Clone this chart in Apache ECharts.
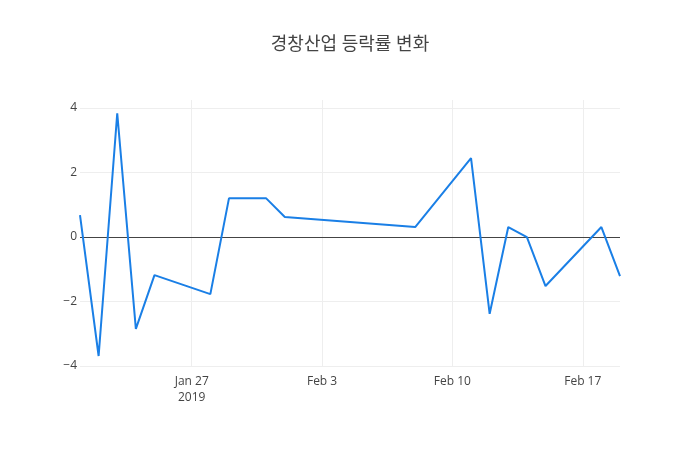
<!DOCTYPE html>
<html><head><meta charset="utf-8">
<script src="https://cdn.jsdelivr.net/npm/echarts@6/dist/echarts.min.js"></script>
<style>html,body{margin:0;padding:0;background:#fff}#c{width:700px;height:450px}</style>
</head><body><div id="c"></div>
<script>
const titleText = '경창산업 등락률 변화';
const dates = ['2019-01-21','2019-01-22','2019-01-23','2019-01-24','2019-01-25','2019-01-28','2019-01-29','2019-01-31','2019-02-01','2019-02-08','2019-02-11','2019-02-12','2019-02-13','2019-02-14','2019-02-15','2019-02-18','2019-02-19'];
const values = [0.68,-3.69,3.84,-2.85,-1.18,-1.77,1.2,1.2,0.62,0.31,2.45,-2.38,0.31,0.0,-1.52,0.31,-1.21];
const xTickDates = ['2019-01-27','2019-02-03','2019-02-10','2019-02-17'];
const xTickLabels = ['Jan 27\n2019','Feb 3','Feb 10','Feb 17'];
const xRange = ['2019-01-21','2019-02-19'];

const ref = Date.UTC(2019,0,27);
function dayNum(s){const p=s.split('-').map(Number);return Math.round((Date.UTC(p[0],p[1]-1,p[2])-ref)/86400000);}
const labelMap = {};
xTickDates.forEach((d,i)=>{labelMap[dayNum(d)] = xTickLabels[i];});
const font = '"Open Sans", "Noto Sans CJK KR", sans-serif';
const chart = echarts.init(document.getElementById('c'));
chart.setOption({
  animation:false,
  title:{text:titleText,left:'center',top:31,textStyle:{fontFamily:font,fontSize:18,fontWeight:'normal',color:'#444'}},
  grid:{left:80,right:80,top:100,bottom:84},
  xAxis:{type:'value',min:dayNum(xRange[0]),max:dayNum(xRange[1]),interval:1,
    axisLine:{show:false},axisTick:{show:false},
    axisLabel:{fontFamily:font,fontSize:12,color:'#444',margin:8,lineHeight:16,showMinLabel:false,showMaxLabel:false,
      formatter:v=>labelMap[v]||''},
    splitLine:{show:false}},
  yAxis:{type:'value',min:-4,max:4.25,interval:2,
    axisLine:{show:false},axisTick:{show:false},
    axisLabel:{fontFamily:font,fontSize:12,color:'#444',margin:3,showMaxLabel:false,
      formatter:v=>(v<0?'\u2212'+Math.abs(v):String(v))},
    splitLine:{show:true,showMaxLine:false,lineStyle:{color:'#eee',width:1}}},
  series:[
    {type:'line',data:[],silent:true,z:1,
      markLine:{silent:true,z:0,symbol:'none',label:{show:false},lineStyle:{color:'#eee',type:'solid',width:1},
        data:xTickDates.map(d=>({xAxis:dayNum(d)}))}},
    {type:'line',data:dates.map((d,i)=>[dayNum(d),values[i]]),showSymbol:false,
    lineStyle:{color:'#1a7fe6',width:2},itemStyle:{color:'#1a7fe6'},
    markLine:{silent:true,z:1,symbol:'none',label:{show:false},lineStyle:{color:'#444',type:'solid',width:1},data:[{yAxis:0}]},
    z:3}]
});
</script></body></html>
